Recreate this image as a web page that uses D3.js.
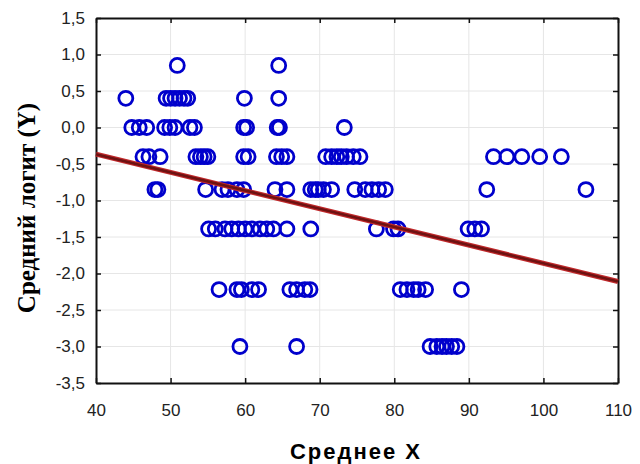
<!DOCTYPE html>
<html>
<head>
<meta charset="utf-8">
<script src="https://cdn.jsdelivr.net/npm/d3@7"></script>
<style>
  body { margin: 0; background: #fff; }
  svg { display: block; }
</style>
</head>
<body>
<svg id="chart"></svg>
<script>
// logit levels (rows) and the X values of the points on each row
var levels = [0.85, 0.4, 0.0, -0.4, -0.85, -1.39, -2.22, -3.0];
var row085 = [50.9, 64.5];
var row040 = [44.0, 49.4, 50.0, 50.6, 51.2, 51.8, 52.3, 59.9, 64.5];
var row000 = [44.8, 45.8, 46.8, 49.2, 49.9, 50.6, 52.6, 53.2, 59.8, 60.2, 64.3, 64.6, 73.3];
var row_040 = [46.3, 47.1, 48.6, 53.4, 54.0, 54.5, 55.0, 59.8, 60.4, 64.2, 64.9, 65.6,
               70.8, 71.6, 72.3, 72.9, 73.6, 74.5, 75.4, 93.3, 95.1, 97.1, 99.5, 102.4];
var row_085 = [47.9, 48.3, 54.7, 56.9, 57.7, 58.9, 59.8, 64.0, 65.6, 68.8,
               69.4, 69.8, 70.5, 71.6, 74.7, 76.1, 77.0, 77.9, 78.8, 92.4, 105.7];
var row_139 = [55.1, 56.0, 57.3, 58.2, 59.1, 60.0, 60.9, 62.0, 62.9, 63.8, 65.6, 68.8,
               77.6, 79.9, 80.5, 89.9, 90.8, 91.7];
var row_222 = [56.5, 58.9, 59.5, 60.9, 61.8, 66.0, 66.9, 68.0, 68.7,
               80.8, 81.7, 82.6, 83.2, 84.2, 89.0];
var row_300 = [59.3, 66.9, 84.8, 85.7, 86.4, 87.0, 87.7, 88.4];
var rows = [row085, row040, row000, row_040, row_085, row_139, row_222, row_300];

// regression line Y = a + b*X
var fitA = 0.632;
var fitB = -0.02493;

var xTicks = [40, 50, 60, 70, 80, 90, 100, 110];
var yTicks = [1.5, 1.0, 0.5, 0.0, -0.5, -1.0, -1.5, -2.0, -2.5, -3.0, -3.5];

var width = 640, height = 464;
var margin = {left: 96, right: 22, top: 18, bottom: 81};

var points = [];
rows.forEach(function(r, i) {
  r.forEach(function(x) { points.push({x: x, y: levels[i]}); });
});

var svg = d3.select("#chart").attr("width", width).attr("height", height);

var x = d3.scaleLinear().domain([40, 110]).range([margin.left, width - margin.right]);
var y = d3.scaleLinear().domain([-3.5, 1.5]).range([height - margin.bottom, margin.top]);

var fmt = function(d) { return d3.format(".1f")(d).replace(".", ",").replace("−", "-"); };

// grid
svg.append("g").selectAll("line.gx")
  .data(xTicks.slice(1, -1)).enter().append("line")
  .attr("x1", function(d){ return x(d); }).attr("x2", function(d){ return x(d); })
  .attr("y1", y(1.5)).attr("y2", y(-3.5))
  .attr("stroke", "#e6e6e6").attr("stroke-width", 1);
svg.append("g").selectAll("line.gy")
  .data(yTicks.slice(1, -1)).enter().append("line")
  .attr("y1", function(d){ return y(d); }).attr("y2", function(d){ return y(d); })
  .attr("x1", x(40)).attr("x2", x(110))
  .attr("stroke", "#e6e6e6").attr("stroke-width", 1);

// axes with inward ticks
svg.append("g").attr("transform", "translate(0," + y(-3.5) + ")")
  .call(d3.axisBottom(x).tickValues(xTicks).tickSizeInner(-5).tickSizeOuter(0).tickPadding(21));
svg.append("g").attr("transform", "translate(" + x(40) + ",0)")
  .call(d3.axisLeft(y).tickValues(yTicks).tickFormat(fmt).tickSizeInner(-5).tickSizeOuter(0).tickPadding(11));
svg.append("g").attr("transform", "translate(" + x(110) + ",0)")
  .call(d3.axisRight(y).tickValues(yTicks).tickFormat("").tickSizeInner(-5).tickSizeOuter(0));
svg.append("g").attr("transform", "translate(0," + y(1.5) + ")")
  .call(d3.axisTop(x).tickValues(xTicks).tickFormat("").tickSizeInner(-5).tickSizeOuter(0));

svg.selectAll(".domain").attr("stroke", "#111").attr("stroke-width", 2);
svg.selectAll(".tick line").attr("stroke", "#111").attr("stroke-width", 1.5);
svg.selectAll(".tick text")
  .attr("font-family", "Liberation Sans, Arial, sans-serif")
  .attr("font-size", 17).attr("fill", "#222");

// points
svg.append("g").selectAll("circle")
  .data(points).enter().append("circle")
  .attr("cx", function(d){ return x(d.x); })
  .attr("cy", function(d){ return y(d.y); })
  .attr("r", 7)
  .attr("fill", "none")
  .attr("stroke", "#0000cc")
  .attr("stroke-width", 2.8);

// regression line
var fitLine = d3.line().x(function(d){ return x(d); }).y(function(d){ return y(fitA + fitB * d); });
svg.append("path").datum([40, 110]).attr("d", fitLine)
  .attr("fill", "none").attr("stroke", "#c0282a").attr("stroke-width", 5);
svg.append("path").datum([40, 110]).attr("d", fitLine)
  .attr("fill", "none").attr("stroke", "#6e1212").attr("stroke-width", 2.6);

// axis titles
svg.append("text")
  .attr("x", 356).attr("y", 459)
  .attr("text-anchor", "middle")
  .attr("font-family", "Liberation Sans, Arial, sans-serif")
  .attr("font-weight", "bold").attr("font-size", 22)
  .attr("letter-spacing", 2)
  .text("Среднее X");

svg.append("text")
  .attr("transform", "translate(35,208) rotate(-90)")
  .attr("text-anchor", "middle")
  .attr("font-family", "Liberation Serif, Times New Roman, serif")
  .attr("font-weight", "bold").attr("font-size", 25)
  .text("Средний логит (Y)");
</script>
</body>
</html>
